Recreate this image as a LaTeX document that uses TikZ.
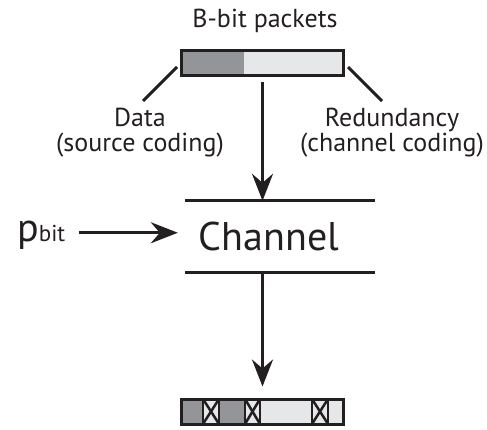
\documentclass[tikz,border=0pt]{standalone}
\usepackage{fontspec}
\setmainfont{PT Sans}
\usepackage{xcolor}
\usetikzlibrary{arrows.meta,positioning,calc}

\definecolor{inkblack}{HTML}{231F20}
\definecolor{datagray}{HTML}{939598}
\definecolor{redgray}{HTML}{E6E7E8}

\begin{document}
\begin{tikzpicture}[
  x=1pt, y=-1pt,
  >={Stealth[length=27pt,width=21pt,inset=9pt]},
  packet/.style = {rectangle, draw=inkblack, line width=3pt, fill=redgray,
                   minimum width=162pt, minimum height=25pt, inner sep=0pt},
  lbl/.style    = {font=\fontsize{26}{25}\selectfont, text=inkblack,
                   align=center, inner sep=0pt},
  bigtxt/.style = {font=\fontsize{40}{44}\selectfont, text=inkblack},
  arr/.style    = {->, line width=3pt, draw=inkblack},
  lead/.style   = {line width=3pt, draw=inkblack},
  xcell/.style  = {fill=redgray, draw=inkblack, line width=2.5pt}
]
\useasboundingbox (0,0) rectangle (487,430);

%%% ---- SENT PACKET (top) ----
\node[lbl] (title) at (265,21) {B-bit packets};
\node[packet, path picture={
        \fill[datagray] (path picture bounding box.north west) rectangle
          ($(path picture bounding box.south west)+(62.5pt,0pt)$);}]
      (pkt) at (262.5,63) {};

\node[lbl] (data) at (140,133) {Data\\(source coding)};
\node[lbl] (red)  at (392,133) {Redundancy\\(channel coding)};

\coordinate (dl1) at (177,67);
\coordinate (dl2) at (143,101);
\coordinate (rl1) at (348,67);
\coordinate (rl2) at (382,101);
\draw[lead] (dl1) -- (dl2);
\draw[lead] (rl1) -- (rl2);

%%% ---- CHANNEL ----
\node[bigtxt, minimum width=190pt, minimum height=71pt, inner sep=0pt]
      (chan) at (280,236.5) {Channel\hspace*{22pt}};
\draw[lead] (chan.north west) -- (chan.north east);
\draw[lead] (chan.south west) -- (chan.south east);

\draw[arr, shorten <=5pt] (pkt.south) -- (pkt.south |- chan.north);

\node[bigtxt, inner sep=0pt, anchor=base west] (pbit) at (17,242)
      {p\fontsize{23}{26}\selectfont bit};
\draw[arr, shorten <=14pt, shorten >=7pt]
      ([yshift=3pt]pbit.east) -- ([yshift=3pt]pbit.east -| chan.west);

%%% ---- RECEIVED PACKET (bottom) ----
\node[packet, path picture={
        \fill[datagray] (path picture bounding box.north west) rectangle
          ($(path picture bounding box.south west)+(63.5pt,0pt)$);
        \foreach \a/\b in {21.5/37.5, 63.5/78.5, 130.5/146.5}{
          \draw[xcell] ($(path picture bounding box.north west)+(\a pt,0pt)$)
            rectangle ($(path picture bounding box.south west)+(\b pt,0pt)$);
          \draw[inkblack, line width=2.5pt]
            ($(path picture bounding box.north west)+(\a pt,0pt)$) --
            ($(path picture bounding box.south west)+(\b pt,0pt)$);
          \draw[inkblack, line width=2.5pt]
            ($(path picture bounding box.south west)+(\a pt,0pt)$) --
            ($(path picture bounding box.north west)+(\b pt,0pt)$);
        }}]
      (rx) at (262.5,411.5) {};

\draw[arr, shorten >=11pt] (pkt.south |- chan.south) -- (pkt.south |- rx.north);
\end{tikzpicture}
\end{document}
